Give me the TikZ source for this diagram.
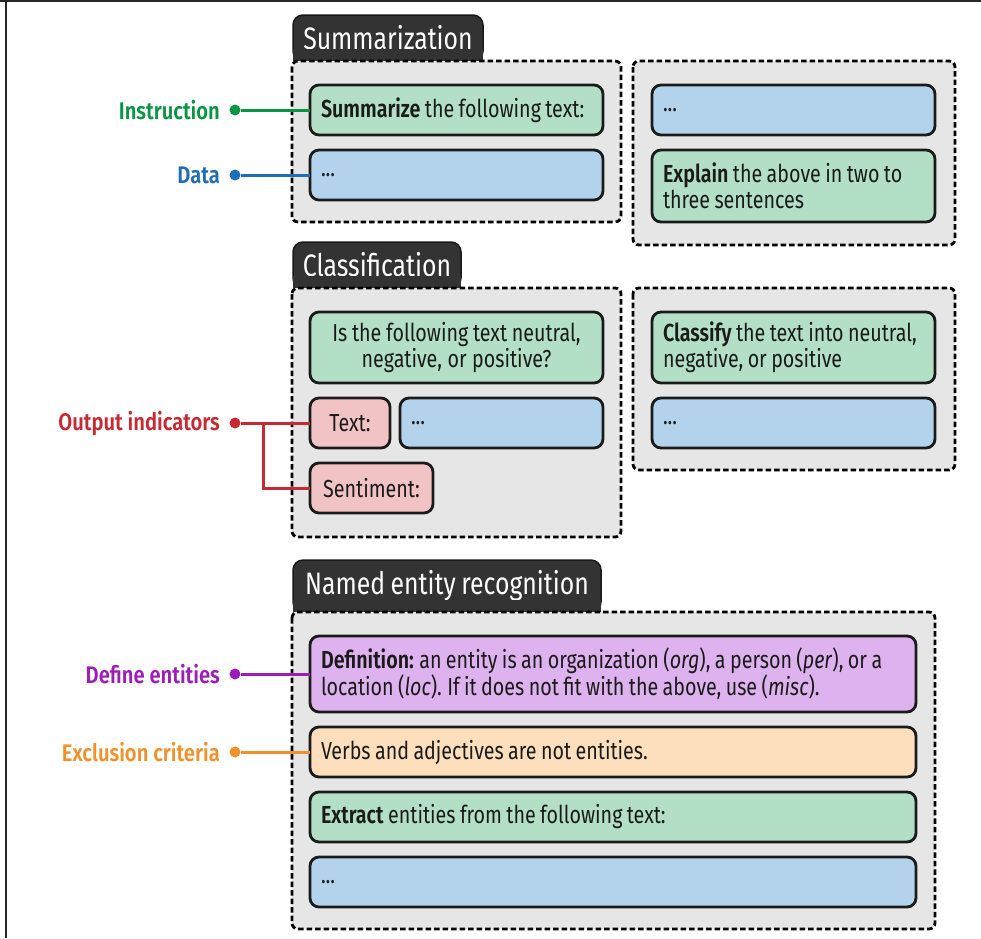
\documentclass[tikz,border=0pt]{standalone}
\usepackage{fontspec}
\setmainfont{Fira Sans}[FakeStretch=0.8, BoldFont={Fira Sans SemiBold}]
\newfontfamily\lblfont{Fira Sans SemiBold}[FakeStretch=0.84]
\usetikzlibrary{positioning}

\definecolor{instrc}{HTML}{0B9444}
\definecolor{datac}{HTML}{1F6DB5}
\definecolor{outc}{HTML}{C62B34}
\definecolor{defc}{HTML}{9C1DB8}
\definecolor{exclc}{HTML}{F0922B}
\definecolor{instrfill}{HTML}{B2DFC6}
\definecolor{datafill}{HTML}{B2D3EB}
\definecolor{outfill}{HTML}{F1C3C5}
\definecolor{deffill}{HTML}{DEB2EE}
\definecolor{exclfill}{HTML}{FDDFBD}
\definecolor{grpfill}{HTML}{E6E6E6}
\definecolor{tabfill}{HTML}{333333}
\definecolor{inkc}{HTML}{1A1A1A}

% tighter word spaces for the condensed look
\newcommand{\tightsp}{\spaceskip=0.18em plus 0.05em\xspaceskip=0.22em plus 0.05em\relax}

\tikzset{
  box/.style={draw=inkc, line width=2.8pt, rounded corners=9pt, inner xsep=11pt,
    inner ysep=0pt, outer sep=0pt, anchor=north west, align=left, text=inkc,
    font=\fontsize{24.6}{26}\selectfont, execute at begin node=\tightsp},
  instrbox/.style={box, fill=instrfill},
  databox/.style={box, fill=datafill},
  outbox/.style={box, fill=outfill},
  defbox/.style={box, fill=deffill},
  exclbox/.style={box, fill=exclfill},
  lcol/.style={minimum width=293pt, text width=271pt},
  rcol/.style={minimum width=283pt, text width=261pt},
  nercol/.style={minimum width=606pt, text width=584pt},
  grp/.style={draw=black, fill=grpfill, line width=2.8pt, dash pattern=on 5.5pt off 3pt,
    rounded corners=6pt},
  tabbox/.style={draw=black!90, fill=tabfill, line width=1.5pt, rounded corners=10pt,
    anchor=north west, inner sep=0pt, outer sep=0pt, text=white,
    font=\fontsize{31}{33}\selectfont, execute at begin node=\tightsp},
  lbl/.style={anchor=east, inner sep=0pt, font=\fontsize{24}{26}\lblfont},
  ldot/.style={circle, inner sep=0pt, minimum size=11pt},
  conn/.style={line width=3pt}
}

\begin{document}
\begin{tikzpicture}[x=1pt, y=-1pt]
\useasboundingbox (0,0) rectangle (981,938);
% frame
\draw[line width=2pt, black!85] (0,1) -- (981,1);
\draw[line width=2pt, black!85] (6,0) -- (6,938);

% tabs
\node[tabbox, minimum width=190pt, minimum height=46pt] (sumtab) at (293,15) {Summarization};
\fill[tabfill] (sumtab.south west) rectangle ([yshift=12pt]sumtab.south east);
\node[tabbox, minimum width=168pt, minimum height=46pt] (clstab) at (293,242) {Classification};
\fill[tabfill] (clstab.south west) rectangle ([yshift=12pt]clstab.south east);
\node[tabbox, minimum width=308pt, minimum height=52pt] (nertab) at (293,560) {Named entity recognition};
\fill[tabfill] (nertab.south west) rectangle ([yshift=12pt]nertab.south east);

% groups
\draw[grp] (292,61) rectangle (621,222);
\draw[grp] (633,61) rectangle (955,245);
\draw[grp] (292,288) rectangle (621,537);
\draw[grp] (633,288) rectangle (955,470);
\draw[grp] (292,612) rectangle (935,929);

% summarization
\node[instrbox, lcol, minimum height=50pt] (suminstr) at (310,85) {\textbf{Summarize} the following text:};
\node[databox, lcol, minimum height=50pt] (sumdata) at (310,150) {...};
\node[databox, rcol, minimum height=50pt] (expdata) at (652,85) {...};
\node[instrbox, rcol, minimum height=72pt] (expinstr) at (652,150) {\textbf{Explain} the above in two to\\three sentences};

% classification
\node[instrbox, lcol, minimum height=71pt, align=center] (clsinstr) at (310,312) {Is the following text neutral,\\negative, or positive?};
\node[outbox, minimum width=80pt, minimum height=50pt] (clstext) at (310,398) {Text:};
\node[databox, minimum width=203pt, text width=181pt, minimum height=50pt] (clsdata) at (400,398) {...};
\node[outbox, minimum width=123pt, minimum height=50pt] (clssent) at (310,463) {Sentiment:};
\node[instrbox, rcol, minimum height=71pt] (cfyinstr) at (652,312) {\textbf{Classify} the text into neutral,\\negative, or positive};
\node[databox, rcol, minimum height=50pt] (cfydata) at (652,398) {...};

% named entity recognition
\node[defbox, nercol, minimum height=76pt] (nerdef) at (310,636) {\textbf{Definition:} an entity is an organization (\textit{org}), a person (\textit{per}), or a\\location (\textit{loc}). If it does not fit with the above, use (\textit{misc}).};
\node[exclbox, nercol, minimum height=50pt] (nerexcl) at (310,727) {Verbs and adjectives are not entities.};
\node[instrbox, nercol, minimum height=50pt] (nerinstr) at (310,792) {\textbf{Extract} entities from the following text:};
\node[databox, nercol, minimum height=50pt] (nerdata) at (310,857) {...};

% labels
\node[lbl, text=instrc] (instrlbl) at (220,110) {Instruction};
\node[ldot, fill=instrc] (instrdot) at (235,110) {};
\draw[conn, instrc] (instrdot) -- (suminstr.west);

\node[lbl, text=datac] (datalbl) at (220,175) {Data};
\node[ldot, fill=datac] (datadot) at (235,175) {};
\draw[conn, datac] (datadot) -- (sumdata.west);

\node[lbl, text=outc] (outlbl) at (220,423) {Output indicators};
\node[ldot, fill=outc] (outdot) at (235,423) {};
\coordinate (outbr) at (263,423);
\draw[conn, outc] (outdot) -- (clstext.west);
\draw[conn, outc] (outbr) |- (clssent.west);

\node[lbl, text=defc] (deflbl) at (220,674) {Define entities};
\node[ldot, fill=defc] (defdot) at (235,674) {};
\draw[conn, defc] (defdot) -- (nerdef.west);

\node[lbl, text=exclc] (excllbl) at (220,752) {Exclusion criteria};
\node[ldot, fill=exclc] (excldot) at (235,752) {};
\draw[conn, exclc] (excldot) -- (nerexcl.west);
\end{tikzpicture}
\end{document}
